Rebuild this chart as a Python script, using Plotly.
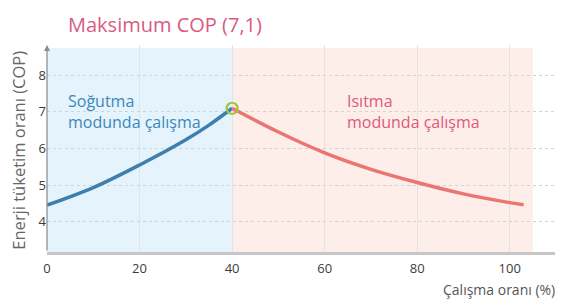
import plotly.graph_objects as go

# ---- data ----
cool_x = [0, 10, 20, 30, 35, 40]
cool_y = [4.45, 4.93, 5.55, 6.24, 6.64, 7.1]
heat_x = [40, 50, 60, 70, 80, 90, 100, 103]
heat_y = [7.1, 6.45, 5.88, 5.43, 5.07, 4.76, 4.52, 4.46]
peak_x = [40]
peak_y = [7.1]
x_ticks = [0, 20, 40, 60, 80, 100]
y_ticks = [4, 5, 6, 7, 8]
cool_span = [0, 40]
heat_span = [40, 105]

title_text = "Maksimum COP (7,1)"
cool_label = "Soğutma<br>modunda çalışma"
heat_label = "Isıtma<br>modunda çalışma"
y_title = "Enerji tüketim oranı (COP)"
x_title = "Çalışma oranı (%)"

FONT = "Open Sans"
Y_RANGE = [3.17, 8.83]
X_RANGE = [0, 111.5]

fig = go.Figure()

fig.add_trace(go.Scatter(x=cool_x, y=cool_y, mode="lines", line=dict(color="#3f7fae", width=3.5, shape="spline", smoothing=1),
                         hoverinfo="skip"))
fig.add_trace(go.Scatter(x=heat_x, y=heat_y, mode="lines", line=dict(color="#ea7571", width=3.5, shape="spline", smoothing=1),
                         hoverinfo="skip"))
fig.add_trace(go.Scatter(x=peak_x, y=peak_y, mode="markers",
                         marker=dict(size=11, color="rgba(255,255,255,0)", line=dict(color="#9bc83e", width=2.2)),
                         hoverinfo="skip"))

# shaded regions
fig.add_shape(type="rect", xref="x", yref="y", x0=cool_span[0], x1=cool_span[1], y0=Y_RANGE[0], y1=8.75,
              fillcolor="#e5f3fc", line_width=0, layer="below")
fig.add_shape(type="rect", xref="x", yref="y", x0=heat_span[0], x1=heat_span[1], y0=Y_RANGE[0], y1=8.75,
              fillcolor="#fdeee9", line_width=0, layer="below")

# y axis arrow
fig.add_annotation(x=0, y=Y_RANGE[1], ax=0, ay=Y_RANGE[0], xref="x", yref="y", axref="x", ayref="y",
                   showarrow=True, arrowhead=2, arrowsize=1, arrowwidth=1.2, arrowcolor="#8a8a8a", text="")

fig.add_annotation(text=title_text, xref="paper", yref="paper", x=0.036, y=1.101, xanchor="left", yanchor="middle",
                   showarrow=False, font=dict(family=FONT, size=20, color="#d95a82"))
fig.add_annotation(text=cool_label, xref="x", yref="y", x=4.0, y=7.02, xanchor="left", yanchor="middle",
                   align="left", showarrow=False, font=dict(family=FONT, size=16, color="#3b88ba"))
fig.add_annotation(text=heat_label, xref="x", yref="y", x=64.5, y=7.02, xanchor="left", yanchor="middle",
                   align="left", showarrow=False, font=dict(family=FONT, size=16, color="#e2587a"))
fig.add_annotation(text=y_title, xref="paper", yref="paper", x=-0.056, y=0.49, xanchor="center", yanchor="middle",
                   textangle=-90, showarrow=False, font=dict(family=FONT, size=16.5, color="#666666"))
fig.add_annotation(text=x_title, xref="paper", yref="paper", x=0.988, y=-0.2367, xanchor="right", yanchor="bottom",
                   showarrow=False, font=dict(family=FONT, size=14, color="#555555"))

# the page body has an 8px default margin, so the figure is 8px smaller to fit the window
fig.update_layout(
    width=555, height=293,
    margin=dict(l=39, r=0, t=37, b=49),
    paper_bgcolor="white", plot_bgcolor="white",
    showlegend=False,
    font=dict(family=FONT),
    xaxis=dict(range=X_RANGE, tickvals=x_ticks, showgrid=True, gridcolor="#e3e3e3", gridwidth=1,
               zeroline=False, showline=True, linecolor="#c6c6c6", linewidth=3, ticks="", automargin=False,
               ticklabelstandoff=2,
               tickfont=dict(family=FONT, size=13, color="#3c3c3c"), fixedrange=True),
    yaxis=dict(range=Y_RANGE, tickvals=y_ticks, showgrid=True, gridcolor="#d2d2d2", gridwidth=1, griddash="dot",
               zeroline=False, showline=False, ticks="", ticklabelstandoff=0, automargin=False,
               tickfont=dict(family=FONT, size=13, color="#3c3c3c"), fixedrange=True),
)

fig.write_html("out.html")
